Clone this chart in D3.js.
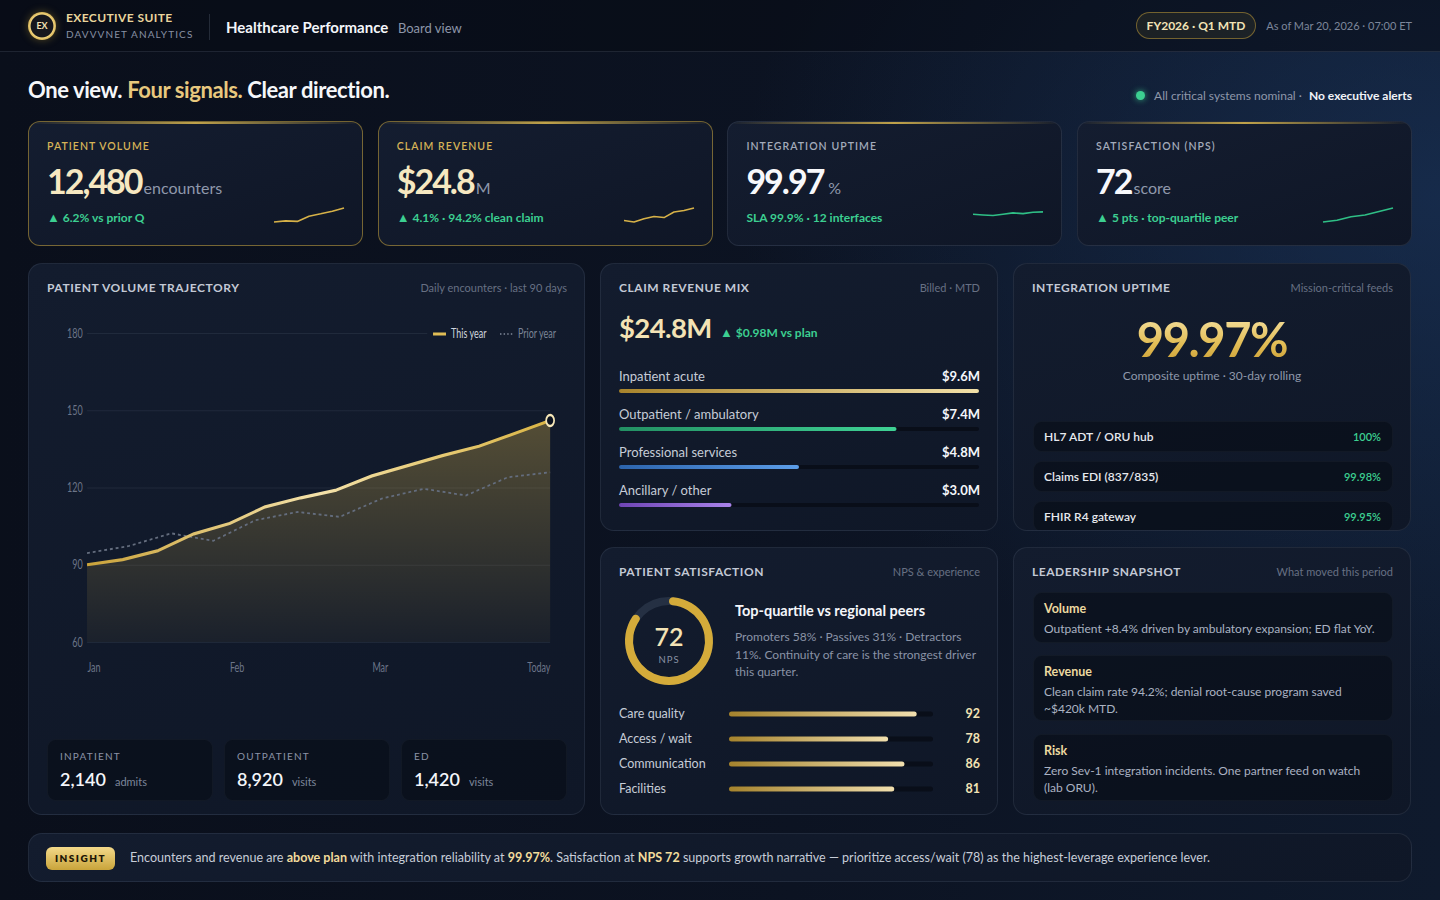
<!DOCTYPE html>
<html lang="en">
<head>
<meta charset="utf-8">
<title>Healthcare Performance · Board view</title>
<script src="https://d3js.org/d3.v7.min.js"></script>
<style>
* { box-sizing: border-box; margin: 0; padding: 0; }
html, body { width: 1440px; height: 900px; overflow: hidden; }
body {
  font-family: Lato, "Noto Sans", sans-serif;
  color: #e6e9ef;
  background:
    radial-gradient(ellipse 700px 520px at 100% 22%, rgba(28,56,98,0.55) 0%, rgba(28,56,98,0) 100%),
    linear-gradient(90deg, #0a0f1b 0%, #0c1322 55%, #0f1a2d 100%);
}
#app { position: relative; width: 1440px; height: 900px; }
.t { position: absolute; white-space: nowrap; height: 20px; line-height: 20px; }
.header { position: absolute; left: 0; top: 0; width: 1440px; height: 52px;
  background: rgba(7,11,20,0.55); border-bottom: 1px solid rgba(148,163,184,0.16); }
.logo { position: absolute; left: 28px; top: 12px; width: 28px; height: 28px; border-radius: 50%;
  background: radial-gradient(circle, #16171d 0 55%, #f0d27a 60%, #b08a2c 85%, #6e5416 100%);
  box-shadow: 0 0 8px rgba(212,175,55,0.35);
  color: #f3e3b5; font-size: 9px; font-weight: 700; text-align: center; line-height: 28px; }
.pill { position: absolute; left: 1136px; top: 12px; width: 120px; height: 27px; border-radius: 14px;
  border: 1px solid rgba(201,164,58,0.5); background: rgba(201,164,58,0.09);
  color: #f2e3b6; font-size: 12px; font-weight: 700; text-align: center; line-height: 25px; }
.card { position: absolute; border-radius: 12px; overflow: hidden;
  background: linear-gradient(160deg, #141d30 0%, #0f1626 100%);
  border: 1px solid rgba(148,163,184,0.14); }
.card.gold { border-color: rgba(201,164,58,0.55); }
.card .hl { position: absolute; left: 0; top: 0; width: 100%; height: 2px;
  background: linear-gradient(90deg, rgba(212,175,55,0) 0%, rgba(222,186,80,0.85) 50%, rgba(212,175,55,0) 100%); }
.panel { position: absolute; border-radius: 14px; overflow: hidden;
  background: linear-gradient(165deg, #131c2e 0%, #0f1727 100%);
  border: 1px solid rgba(148,163,184,0.13); }
.sub { position: absolute; border-radius: 9px; background: rgba(4,8,16,0.45);
  border: 1px solid rgba(148,163,184,0.06); }
.dot { position: absolute; left: 1136px; top: 91px; width: 9px; height: 9px; border-radius: 50%;
  background: #3ccf91; box-shadow: 0 0 6px rgba(60,207,145,0.8); }
.badge { position: absolute; left: 17px; top: 13px; width: 69px; height: 23px; border-radius: 6px;
  background: linear-gradient(180deg, #f3d98a 0%, #c9a43a 100%);
  color: #1d1606; font-size: 10px; font-weight: 800; letter-spacing: 1.5px; text-align: center; line-height: 23px; }
.hi { color: #f2dc9c; font-weight: 700; }
.tri { font-size: 13px; line-height: 1; }
svg text { font-family: Lato, "Noto Sans", sans-serif; }
</style>
</head>
<body>
<div id="app">
  <div class="header"></div>
  <div class="logo">EX</div>
  <div class="t" style="left:66px;top:8px;font-size:12px;font-weight:700;letter-spacing:0.4px;color:#ead59c">EXECUTIVE SUITE</div>
  <div class="t" style="left:66px;top:24px;font-size:10px;letter-spacing:1.1px;color:#8790a3">DAVVVNET ANALYTICS</div>
  <div style="position:absolute;left:209px;top:14px;width:1px;height:26px;background:rgba(148,163,184,0.2)"></div>
  <div class="t" style="left:226px;top:17px;font-size:15px;font-weight:700;color:#f4f6fa">Healthcare Performance <span style="font-size:13px;font-weight:400;color:#8d96a8;margin-left:6px">Board view</span></div>
  <div class="pill">FY2026 · Q1 MTD</div>
  <div class="t" style="right:28px;top:16px;font-size:11px;color:#7d869a">As of Mar 20, 2026 · 07:00 ET</div>

  <div class="t" style="left:28px;top:80px;font-size:22px;font-weight:700;letter-spacing:-0.4px;color:#f6f7fa">One view. <span style="color:#e8c87e">Four signals.</span> Clear direction.</div>
  <div class="dot"></div>
  <div class="t" style="right:28px;top:86px;font-size:12px;color:#8e97a9">All critical systems nominal · <span style="color:#f1f3f7;font-weight:700;margin-left:4px">No executive alerts</span></div>
</div>
<script>
// ---- data ----
var kpiLabels = ["PATIENT VOLUME", "CLAIM REVENUE", "INTEGRATION UPTIME", "SATISFACTION (NPS)"];
var kpiValues = ["12,480", "$24.8", "99.97", "72"];
var kpiUnits = ["encounters", "M", "%", "score"];
var kpiDeltas = ["<span class='tri'>▲</span> 6.2% vs prior Q", "<span class='tri'>▲</span> 4.1% · 94.2% clean claim",
                 "SLA 99.9% · 12 interfaces", "<span class='tri'>▲</span> 5 pts · top-quartile peer"];
var sparkVolume = [1.0, 1.4, 1.2, 3.0, 3.8, 4.7, 5.8];
var sparkRevenue = [2.0, 1.6, 2.5, 3.1, 2.8, 4.3, 4.7, 5.4];
var sparkUptime = [99.955, 99.950, 99.946, 99.955, 99.965, 99.960, 99.970, 99.972];
var sparkNps = [64, 65, 67, 68, 70, 72];

var trendLabels = ["Jan", "Feb", "Mar", "Today"];
var trendTickIdx = [0, 4, 8, 13];
var yTicks = [60, 90, 120, 150, 180];
var thisYear = [90, 92, 95.5, 102, 106, 112.5, 116, 119, 124.5, 128.5, 132.5, 136, 141, 146];
var priorYear = [94.5, 97.3, 102.2, 99.3, 107.3, 110.5, 108.6, 115.7, 119.5, 116.9, 124, 125.9];

var volumeLabels = ["INPATIENT", "OUTPATIENT", "ED"];
var volumeValues = [2140, 8920, 1420];
var volumeUnits = ["admits", "visits", "visits"];

var mixCategories = ["Inpatient acute", "Outpatient / ambulatory", "Professional services", "Ancillary / other"];
var mixValues = [9.6, 7.4, 4.8, 3.0];

var feedNames = ["HL7 ADT / ORU hub", "Claims EDI (837/835)", "FHIR R4 gateway"];
var feedUptime = [100, 99.98, 99.95];

var npsScore = 72;
var expCategories = ["Care quality", "Access / wait", "Communication", "Facilities"];
var expScores = [92, 78, 86, 81];

var snapTitles = ["Volume", "Revenue", "Risk"];
var snapTexts = [
  "Outpatient +8.4% driven by ambulatory expansion; ED flat YoY.",
  "Clean claim rate 94.2%; denial root-cause program saved ~$420k MTD.",
  "Zero Sev-1 integration incidents. One partner feed on watch (lab ORU)."
];

// ---- helpers ----
var app = d3.select("#app");

function T(p, o, html) {
  var d = p.append("div").attr("class", "t").html(html)
    .style("top", (o.y - 10) + "px")
    .style("font-size", (o.size || 12) + "px")
    .style("font-weight", o.w || 400)
    .style("color", o.c || "#e6e9ef");
  if (o.r != null) d.style("right", o.r + "px"); else d.style("left", o.x + "px");
  if (o.ls) d.style("letter-spacing", o.ls + "px");
  if (o.width) d.style("width", o.width + "px").style("white-space", "normal")
    .style("height", "auto").style("line-height", o.lh + "px");
  return d;
}

function box(p, cls, x, y, w, h) {
  return p.append("div").attr("class", cls)
    .style("left", x + "px").style("top", y + "px")
    .style("width", w + "px").style("height", h + "px");
}

function panel(x, y, w, h, title, sub) {
  var p = box(app, "panel", x, y, w, h);
  T(p, {x: 18, y: 24, size: 12, w: 700, c: "#c3c9d5", ls: 0.55}, title);
  T(p, {r: 17, y: 24, size: 11, c: "#677083"}, sub);
  return p;
}

// ---- KPI cards ----
var sparks = [sparkVolume, sparkRevenue, sparkUptime, sparkNps];
var sparkDomains = [null, null, [99.9, 100.0], null];
kpiLabels.forEach(function(lab, i) {
  var gold = i < 2;
  var c = box(app, "card" + (gold ? " gold" : ""), 28 + i * 349.7, 121, 335, 125);
  c.append("div").attr("class", "hl");
  T(c, {x: 18, y: 24, size: 10.5, w: 600, ls: 1.05, c: gold ? "#d6b357" : "#a3abbb"}, lab);
  c.append("div").attr("class", "t")
    .style("left", "18px").style("top", "37px").style("height", "44px").style("line-height", "44px")
    .html('<span style="font-size:34px;font-weight:700;letter-spacing:-2px;color:' + (gold ? "#f6e8c1" : "#f7f8fb") + '">' + kpiValues[i] +
          '</span><span style="font-size:16px;color:#8f98ab;margin-left:' + (i === 2 ? 5 : 2) + 'px">' + kpiUnits[i] + '</span>');
  T(c, {x: 18, y: 96, size: 12, w: 700, c: "#3ccf91"}, kpiDeltas[i]);

  var sw = 72, sh = 16;
  var s = c.append("svg").attr("width", sw).attr("height", sh + 4)
    .style("position", "absolute").style("left", "244px").style("top", "83px");
  var data = sparks[i];
  var sx = d3.scaleLinear().domain([0, data.length - 1]).range([1, sw - 1]);
  var sy = d3.scaleLinear().domain(sparkDomains[i] || d3.extent(data)).range([sh + 1, 3]);
  s.append("path")
    .attr("d", d3.line().x(function(d, j) { return sx(j); }).y(function(d) { return sy(d); })(data))
    .attr("fill", "none")
    .attr("stroke", gold ? "#d6b148" : "#2fbf86")
    .attr("stroke-width", 1.6)
    .attr("stroke-linejoin", "round");
});

// ---- Patient volume trajectory ----
var p1 = panel(28, 263, 557, 552, "PATIENT VOLUME TRAJECTORY", "Daily encounters · last 90 days");

// chart is drawn in a wider viewBox and squeezed horizontally
var vbW = 722, vbH = 370;
var svg = p1.append("svg")
  .attr("width", 520).attr("height", vbH)
  .attr("viewBox", "0 0 " + vbW + " " + vbH)
  .attr("preserveAspectRatio", "none")
  .style("position", "absolute").style("left", "18px").style("top", "51px");

var x0 = 55.6, x1 = 698.6;
var y = d3.scaleLinear().domain([60, 180]).range([327, 18]);
var xNow = d3.scaleLinear().domain([0, thisYear.length - 1]).range([x0, x1]);
var xPrior = d3.scaleLinear().domain([0, priorYear.length - 1]).range([x0, x1]);

var defs = svg.append("defs");
var ag = defs.append("linearGradient").attr("id", "areaGrad")
  .attr("gradientUnits", "userSpaceOnUse").attr("x1", 0).attr("x2", 0)
  .attr("y1", y(d3.max(thisYear))).attr("y2", y(60));
ag.append("stop").attr("offset", "0%").attr("stop-color", "#d6b24a").attr("stop-opacity", 0.34);
ag.append("stop").attr("offset", "100%").attr("stop-color", "#d6b24a").attr("stop-opacity", 0.05);
var lg = defs.append("linearGradient").attr("id", "lineGrad")
  .attr("gradientUnits", "userSpaceOnUse").attr("x1", x0).attr("x2", x1).attr("y1", 0).attr("y2", 0);
lg.append("stop").attr("offset", "0%").attr("stop-color", "#caa33a");
lg.append("stop").attr("offset", "50%").attr("stop-color", "#f4e2aa");
lg.append("stop").attr("offset", "100%").attr("stop-color", "#d9b444");

var legendStart = 528;
svg.append("g")
  .attr("transform", "translate(" + x0 + ",0)")
  .call(d3.axisLeft(y).tickValues(yTicks).tickSize(-(x1 - x0)).tickPadding(6))
  .call(function(g) { g.select(".domain").remove(); })
  .call(function(g) {
    g.selectAll(".tick line").attr("stroke", "rgba(148,163,184,0.13)")
      .attr("x2", function(d) { return d === 180 ? legendStart - x0 : x1 - x0; });
    g.selectAll(".tick text").attr("fill", "#6c7588").attr("font-size", 12.5)
      .attr("font-family", "Lato, 'Noto Sans', sans-serif");
  });

svg.append("g")
  .attr("transform", "translate(0," + y(60) + ")")
  .call(d3.axisBottom(xNow).tickValues(trendTickIdx)
    .tickFormat(function(d, i) { return trendLabels[i]; }).tickSize(0))
  .call(function(g) { g.select(".domain").remove(); })
  .call(function(g) {
    g.selectAll(".tick text").attr("fill", "#6c7588").attr("font-size", 12.5)
      .attr("font-family", "Lato, 'Noto Sans', sans-serif")
      .attr("y", 26).attr("dy", "0.35em")
      .attr("text-anchor", function(d, i) { return i === trendTickIdx.length - 1 ? "end" : "start"; });
  });

svg.append("path")
  .attr("d", d3.area().x(function(d, i) { return xNow(i); }).y0(y(60)).y1(function(d) { return y(d); })(thisYear))
  .attr("fill", "url(#areaGrad)");

svg.append("path")
  .attr("d", d3.line().x(function(d, i) { return xPrior(i); }).y(function(d) { return y(d); })(priorYear))
  .attr("fill", "none").attr("stroke", "#646d7e").attr("stroke-width", 1.8)
  .attr("stroke-dasharray", "4 4");

svg.append("path")
  .attr("d", d3.line().x(function(d, i) { return xNow(i); }).y(function(d) { return y(d); })(thisYear))
  .attr("fill", "none").attr("stroke", "url(#lineGrad)").attr("stroke-width", 3.2)
  .attr("stroke-linejoin", "round");

var last = thisYear.length - 1;
svg.append("circle")
  .attr("cx", xNow(last)).attr("cy", y(thisYear[last])).attr("r", 5.5)
  .attr("fill", "#0b1220").attr("stroke", "#f6e7b8").attr("stroke-width", 2.4);

var leg = svg.append("g").attr("transform", "translate(0," + (y(180) + 1) + ")");
leg.append("line").attr("x1", 536).attr("x2", 554).attr("stroke", "#e0bd55").attr("stroke-width", 3);
leg.append("text").attr("x", 561).attr("dy", "0.35em").attr("font-size", 12.5).attr("fill", "#cfd4dd").text("This year");
leg.append("line").attr("x1", 629).attr("x2", 647).attr("stroke", "#646d7e").attr("stroke-width", 1.8).attr("stroke-dasharray", "2 3");
leg.append("text").attr("x", 654).attr("dy", "0.35em").attr("font-size", 12.5).attr("fill", "#7b8496").text("Prior year");

volumeLabels.forEach(function(lab, i) {
  var b = box(p1, "sub", 18 + i * 177, 475, 166, 62);
  T(b, {x: 12, y: 16, size: 10, ls: 1.2, c: "#8a93a6"}, lab);
  T(b, {x: 12, y: 39, size: 18, w: 600, c: "#f4f6fa"},
    d3.format(",")(volumeValues[i]) + '<span style="font-size:11px;font-weight:400;color:#7d869a;margin-left:9px">' + volumeUnits[i] + '</span>');
});

// ---- Claim revenue mix ----
var p2 = panel(600, 263, 398, 268, "CLAIM REVENUE MIX", "Billed · MTD");
T(p2, {x: 18, y: 64, size: 27.5, w: 700, c: "#f3e3b5", ls: -0.6}, "$24.8M");
T(p2, {x: 119, y: 69, size: 12, w: 700, c: "#3ccf91"}, "<span class='tri'>▲</span> $0.98M vs plan");

var s2 = p2.append("svg").attr("width", 398).attr("height", 268)
  .style("position", "absolute").style("left", 0).style("top", 0);
var mixColors = [["#a8842c", "#f2e0a8"], ["#239063", "#3fd295"], ["#2c64ad", "#5c9de8"], ["#6f45b5", "#a983ea"]];
mixColors.forEach(function(c, i) {
  var g = s2.append("defs").append("linearGradient").attr("id", "mix" + i);
  g.append("stop").attr("offset", "0%").attr("stop-color", c[0]);
  g.append("stop").attr("offset", "100%").attr("stop-color", c[1]);
});
var xm = d3.scaleLinear().domain([0, d3.max(mixValues)]).range([0, 360]);
var mixRow = s2.selectAll("g.mix").data(mixValues).enter().append("g")
  .attr("transform", function(d, i) { return "translate(18," + (112 + i * 38) + ")"; });
mixRow.append("text").attr("dy", "0.35em").attr("font-size", 13).attr("fill", "#c6ccd7")
  .text(function(d, i) { return mixCategories[i]; });
mixRow.append("text").attr("x", 361).attr("dy", "0.35em").attr("text-anchor", "end")
  .attr("font-size", 13).attr("font-weight", 700).attr("fill", "#f4f6fa")
  .text(function(d) { return "$" + d.toFixed(1) + "M"; });
mixRow.append("rect").attr("y", 13).attr("width", 360).attr("height", 4).attr("rx", 2).attr("fill", "#090e19");
mixRow.append("rect").attr("y", 13).attr("width", function(d) { return xm(d); }).attr("height", 4).attr("rx", 2)
  .attr("fill", function(d, i) { return "url(#mix" + i + ")"; });

// ---- Integration uptime ----
var p3 = panel(1013, 263, 398, 268, "INTEGRATION UPTIME", "Mission-critical feeds");
p3.append("div").attr("class", "t")
  .style("left", 0).style("width", "396px").style("text-align", "center")
  .style("top", "49px").style("height", "52px").style("line-height", "52px")
  .style("font-size", "47px").style("font-weight", 700).style("letter-spacing", "-1.4px")
  .style("background", "linear-gradient(180deg, #f6e3a6 0%, #e2bd55 60%, #c99d33 100%)")
  .style("-webkit-background-clip", "text").style("background-clip", "text").style("color", "transparent")
  .text("99.97%");
p3.append("div").attr("class", "t")
  .style("left", 0).style("width", "396px").style("text-align", "center")
  .style("top", "103px").style("height", "18px").style("line-height", "18px")
  .style("font-size", "12px").style("color", "#8f98aa")
  .text("Composite uptime · 30-day rolling");
feedNames.forEach(function(name, i) {
  var r = box(p3, "sub", 19, 157 + i * 40, 360, 31);
  T(r, {x: 10, y: 15, size: 12, w: 600, c: "#e7e9ee"}, name);
  T(r, {r: 11, y: 15, size: 11, w: 600, c: "#3ccf91"},
    feedUptime[i] === 100 ? "100%" : feedUptime[i].toFixed(2) + "%");
});

// ---- Patient satisfaction ----
var p4 = panel(600, 547, 398, 268, "PATIENT SATISFACTION", "NPS & experience");
var s4 = p4.append("svg").attr("width", 398).attr("height", 268)
  .style("position", "absolute").style("left", 0).style("top", 0);
var npsAngle = d3.scaleLinear().domain([-100, 100]).range([0, 2 * Math.PI]);
var donut = s4.append("g").attr("transform", "translate(68,93)");
donut.append("circle").attr("r", 40).attr("fill", "none").attr("stroke", "#253043").attr("stroke-width", 8);
donut.append("path")
  .attr("d", d3.arc().innerRadius(36).outerRadius(44).cornerRadius(4).startAngle(0).endAngle(npsAngle(npsScore))())
  .attr("fill", "#d4ab3a");
donut.append("text").attr("text-anchor", "middle").attr("y", -4).attr("dy", "0.35em")
  .attr("font-size", 25).attr("font-weight", 600).attr("fill", "#f3e3b5").text(npsScore);
donut.append("text").attr("text-anchor", "middle").attr("y", 19).attr("dy", "0.35em")
  .attr("font-size", 9.5).attr("letter-spacing", 1).attr("fill", "#8a93a6").text("NPS");

T(p4, {x: 134, y: 63, size: 14.5, w: 700, c: "#f4f6fa"}, "Top-quartile vs regional peers");
T(p4, {x: 134, y: 90, size: 12, c: "#8a93a6", width: 250, lh: 17.5},
  "Promoters 58% · Passives 31% · Detractors 11%. Continuity of care is the strongest driver this quarter.");

var sg = s4.append("defs").append("linearGradient").attr("id", "expGrad");
sg.append("stop").attr("offset", "0%").attr("stop-color", "#a5832d");
sg.append("stop").attr("offset", "100%").attr("stop-color", "#f1dfae");
var xe = d3.scaleLinear().domain([0, 100]).range([0, 204]);
var expRow = s4.selectAll("g.exp").data(expScores).enter().append("g")
  .attr("transform", function(d, i) { return "translate(18," + (166 + i * 25) + ")"; });
expRow.append("text").attr("dy", "0.35em").attr("font-size", 12.5).attr("fill", "#c6ccd7")
  .text(function(d, i) { return expCategories[i]; });
expRow.append("rect").attr("x", 110).attr("y", -2.5).attr("width", xe(100)).attr("height", 5).attr("rx", 2.5).attr("fill", "#090e19");
expRow.append("rect").attr("x", 110).attr("y", -2.5).attr("width", function(d) { return xe(d); }).attr("height", 5).attr("rx", 2.5)
  .attr("fill", "url(#expGrad)");
expRow.append("text").attr("x", 361).attr("dy", "0.35em").attr("text-anchor", "end")
  .attr("font-size", 12.5).attr("font-weight", 700).attr("fill", "#f3e3b5").text(function(d) { return d; });

// ---- Leadership snapshot ----
var p5 = panel(1013, 547, 398, 268, "LEADERSHIP SNAPSHOT", "What moved this period");
var snapTops = [44, 107, 186], snapH = [51, 66, 67];
snapTitles.forEach(function(tt, i) {
  var b = box(p5, "sub", 19, snapTops[i], 360, snapH[i]);
  T(b, {x: 10, y: 16, size: 12.5, w: 700, c: "#ecd9a0"}, tt);
  T(b, {x: 10, y: 37, size: 12, c: "#aab2c2", width: 338, lh: 17}, snapTexts[i]);
});

// ---- Insight bar ----
var ins = box(app, "panel", 28, 833, 1384, 49);
ins.append("div").attr("class", "badge").text("INSIGHT");
T(ins, {x: 101, y: 24, size: 12.55, c: "#c7cdd8"},
  'Encounters and revenue are <span class="hi">above plan</span> with integration reliability at <span class="hi">99.97%</span>. ' +
  'Satisfaction at <span class="hi">NPS 72</span> supports growth narrative — prioritize access/wait (78) as the highest-leverage experience lever.');
</script>
</body>
</html>
